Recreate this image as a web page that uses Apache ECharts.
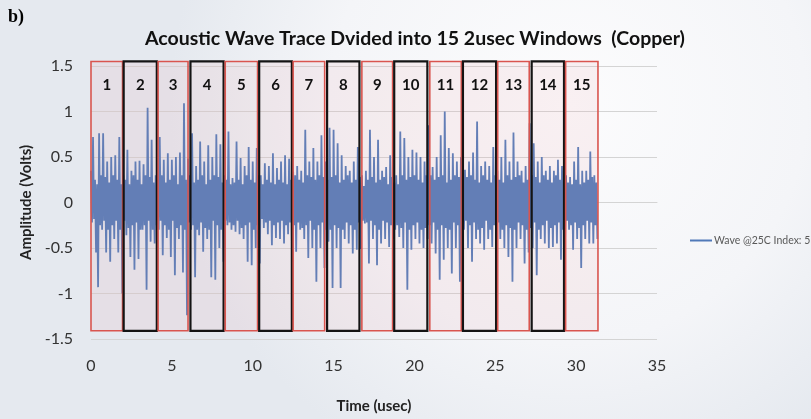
<!DOCTYPE html>
<html>
<head>
<meta charset="utf-8">
<script src="https://cdn.jsdelivr.net/npm/echarts@6/dist/echarts.min.js"></script>
<style>
  html, body { margin: 0; padding: 0; }
  #chart { width: 811px; height: 419px; }
</style>
</head>
<body>
<div id="chart"></div>
<script>
// Sample spacing of the recorded trace (usec)
const timeStep = 0.0625;

// Acoustic wave amplitude (Volts), one row per 2 usec window
const amplitude = [
  0.35,-0.22, 0.72,-0.18, 0.25,-0.55, 0.20,-0.93, 0.76,-0.25, 0.30,-0.30, 0.76,-0.20, 0.28,-0.55, 0.45,-0.30, 0.22,-0.65, 0.50,-0.25, 0.30,-0.40, 0.52,-0.20, 0.25,-0.55, 0.72,-0.30, 0.20,-1.00,
  0.30,-0.20, 0.25,-0.36, 0.58,-0.28, 0.20,-0.60, 0.35,-0.25, 0.30,-0.74, 0.45,-0.22, 0.25,-0.62, 0.46,-0.30, 0.20,-0.30, 0.42,-0.25, 0.30,-0.96, 1.04,-0.20, 0.28,-0.43, 0.69,-0.30, 0.22,-0.45, 0.30,-0.25,
  0.25,-0.30, 0.72,-0.20, 0.30,-0.58, 0.47,-0.25, 0.22,-0.39, 0.54,-0.30, 0.25,-0.60, 0.47,-0.20, 0.30,-0.80, 0.50,-0.28, 0.20,-0.40, 0.55,-0.25, 0.30,-0.77, 1.09,-0.30, 0.25,-1.24, 0.48,-0.22,
  0.30,-0.30, 0.76,-0.25, 0.22,-0.82, 0.40,-0.30, 0.25,-0.36, 0.67,-0.22, 0.30,-0.54, 0.45,-0.28, 0.20,-0.40, 0.63,-0.30, 0.25,-0.82, 0.50,-0.20, 0.30,-0.85, 0.75,-0.25, 0.28,-0.50, 0.64,-0.30, 0.22,-0.65,
  0.30,-0.20, 0.25,-0.25, 0.78,-0.22, 0.20,-0.30, 0.27,-0.25, 0.22,-0.32, 0.67,-0.20, 0.25,-0.35, 0.49,-0.28, 0.20,-0.40, 0.40,-0.25, 0.30,-0.65, 0.61,-0.22, 0.25,-0.69, 0.45,-0.30, 0.22,-0.50, 0.60,-0.25, 0.30,-0.67,
  0.30,-0.18, 0.20,-0.28, 0.43,-0.22, 0.25,-0.35, 0.40,-0.20, 0.22,-0.47, 0.54,-0.25, 0.20,-0.39, 0.38,-0.22, 0.25,-0.40, 0.45,-0.20, 0.22,-0.45, 0.52,-0.25, 0.20,-0.35, 0.48,-0.22, 0.25,-0.65,
  0.34,-0.25, 0.30,-0.54, 0.40,-0.22, 0.25,-0.30, 0.35,-0.28, 0.22,-0.40, 0.80,-0.25, 0.30,-0.61, 0.45,-0.20, 0.28,-0.50, 0.60,-0.30, 0.25,-0.87, 0.45,-0.25, 0.30,-0.50, 0.74,-0.22, 0.28,-0.72, 0.45,-0.30,
  0.25,-0.43, 0.82,-0.30, 0.28,-0.94, 0.80,-0.25, 0.30,-0.50, 0.65,-0.28, 0.22,-0.94, 0.52,-0.30, 0.25,-0.40, 0.40,-0.22, 0.30,-0.45, 0.35,-0.25, 0.22,-0.56, 0.45,-0.30, 0.25,-0.52, 0.61,-0.22, 0.28,-0.51,
  0.30,-0.20, 0.18,-0.23, 0.35,-0.22, 0.25,-0.67, 0.80,-0.20, 0.28,-0.40, 0.50,-0.25, 0.22,-0.69, 0.69,-0.30, 0.25,-0.45, 0.35,-0.20, 0.28,-0.40, 0.39,-0.22, 0.20,-0.49, 0.52,-0.25, 0.28,-0.40,
  0.22,-0.30, 0.30,-0.25, 0.20,-0.38, 0.78,-0.28, 0.30,-0.50, 0.71,-0.22, 0.25,-0.96, 0.50,-0.30, 0.28,-0.52, 0.58,-0.25, 0.30,-0.40, 0.55,-0.22, 0.25,-0.45, 0.50,-0.30, 0.22,-0.50, 0.45,-0.28, 0.30,-0.40, 0.85,-0.25,
  0.30,-0.45, 0.39,-0.22, 0.25,-0.56, 0.50,-0.30, 0.28,-0.85, 0.74,-0.25, 0.30,-0.63, 1.00,-0.28, 0.22,-0.50, 0.60,-0.30, 0.25,-0.78, 0.54,-0.22, 0.30,-0.50, 0.45,-0.25, 0.28,-0.87, 0.50,-0.30,
  0.25,-0.30, 0.36,-0.20, 0.28,-0.50, 0.45,-0.25, 0.30,-0.65, 0.55,-0.22, 0.25,-0.40, 0.89,-0.30, 0.22,-0.45, 0.40,-0.28, 0.30,-0.52, 0.45,-0.20, 0.25,-0.40, 0.40,-0.30, 0.22,-0.49, 0.61,-0.25, 0.30,-0.55,
  0.35,-0.22, 0.25,-0.40, 0.50,-0.30, 0.22,-0.50, 0.69,-0.25, 0.30,-0.60, 0.45,-0.28, 0.25,-0.87, 0.77,-0.30, 0.28,-0.50, 0.45,-0.22, 0.30,-0.40, 0.35,-0.25, 0.22,-0.67, 0.40,-0.30, 0.25,-0.55, 0.87,-0.28,
  0.30,-0.50, 0.65,-0.22, 0.28,-0.80, 0.45,-0.30, 0.22,-0.40, 0.50,-0.25, 0.30,-0.45, 0.35,-0.20, 0.25,-0.50, 0.40,-0.28, 0.22,-0.49, 0.35,-0.25, 0.30,-0.45, 0.47,-0.22, 0.25,-0.63, 0.40,-0.30, 0.28,-0.45,
  0.30,-0.20, 0.22,-0.30, 0.28,-0.25, 0.20,-0.52, 0.45,-0.22, 0.25,-0.40, 0.61,-0.28, 0.20,-0.72, 0.35,-0.25, 0.22,-0.40, 0.35,-0.20, 0.25,-0.45, 0.56,-0.22, 0.28,-0.45, 0.30,-0.25, 0.22,-0.40
];

// The 15 analysis windows (usec)
const windowStart = [0.00, 2.02, 4.15, 6.15, 8.30, 10.40, 12.50, 14.60, 16.75, 18.75, 20.95, 23.00, 25.15, 27.25, 29.35];
const windowEnd   = [1.95, 4.07, 6.00, 8.20, 10.30, 12.42, 14.45, 16.60, 18.65, 20.80, 22.90, 25.05, 27.10, 29.25, 31.35];
const windowLabels = ['1','2','3','4','5','6','7','8','9','10','11','12','13','14','15'];

const seriesName = 'Wave @25C Index: 5';

// Vertical extent of the window frames and their number labels (Volts)
const frameTop = 1.55;
const frameBottom = -1.41;
const labelLevel = 1.29;

const waveData = amplitude.map((v, i) => [i * timeStep, v]);
const windowData = windowStart.map((s, i) => [s, windowEnd[i], i]);

function renderWindow(params, api) {
  const x0 = api.value(0);
  const x1 = api.value(1);
  const idx = api.value(2);
  const tl = api.coord([x0, frameTop]);
  const br = api.coord([x1, frameBottom]);
  const odd = idx % 2 === 0; // windows 1, 3, 5 ... use red frames
  return {
    type: 'group',
    children: [
      {
        type: 'rect',
        shape: { x: tl[0], y: tl[1], width: br[0] - tl[0], height: br[1] - tl[1] },
        style: {
          fill: 'rgba(232,165,170,0.13)',
          stroke: odd ? '#d9554f' : '#141414',
          lineWidth: odd ? 1.6 : 2.2
        }
      },
      {
        type: 'text',
        x: (tl[0] + br[0]) / 2,
        y: api.coord([x0, labelLevel])[1],
        style: {
          text: windowLabels[idx],
          fill: '#111',
          font: 'bold 15px Lato',
          align: 'center',
          verticalAlign: 'middle'
        }
      }
    ]
  };
}

const chart = echarts.init(document.getElementById('chart'), null, { renderer: 'canvas' });

chart.setOption({
  animation: false,
  backgroundColor: {
    type: 'radial', x: 0.7, y: 0.25, r: 0.95,
    colorStops: [
      { offset: 0, color: '#fcfcfd' },
      { offset: 0.6, color: '#f4f5f8' },
      { offset: 1, color: '#e5e9ef' }
    ]
  },
  title: {
    text: 'Acoustic Wave Trace Dvided into 15 2usec Windows  (Copper)',
    left: 410,
    textAlign: 'center',
    top: 24,
    textStyle: { fontFamily: 'Lato', fontWeight: 'bold', fontSize: 19.5, color: '#111' }
  },
  graphic: [
    {
      type: 'text', left: 8, top: 8,
      style: { text: 'b)', font: 'bold 18px "Liberation Serif"', fill: '#000' }
    }
  ],
  legend: {
    data: [seriesName],
    left: 685,
    top: 230,
    icon: 'rect',
    itemWidth: 22,
    itemHeight: 2,
    itemGap: 4,
    textStyle: { fontFamily: 'Lato', fontSize: 10.5, color: '#595959', padding: [0, 0, 0, -3] }
  },
  grid: { left: 91, right: 154, top: 66, bottom: 80 },
  xAxis: {
    type: 'value',
    min: 0, max: 35, interval: 5,
    name: 'Time (usec)',
    nameLocation: 'middle',
    nameGap: 60,
    nameTextStyle: { fontFamily: 'Lato', fontWeight: 'bold', fontSize: 15, color: '#222' },
    axisLine: { show: true, lineStyle: { color: '#d4d4d4', width: 1 } },
    axisTick: { show: false },
    splitLine: { show: false },
    axisLabel: { fontFamily: 'Lato', fontSize: 16, color: '#333', margin: 19 }
  },
  yAxis: {
    type: 'value',
    min: -1.5, max: 1.5, interval: 0.5,
    name: 'Amplitude (Volts)',
    nameLocation: 'middle',
    nameGap: 22,
    nameRotate: 90,
    nameTextStyle: { fontFamily: 'Lato', fontWeight: 'bold', fontSize: 15, color: '#222' },
    axisLine: { show: false },
    axisTick: { show: false },
    splitLine: { lineStyle: { color: '#d4d4d4', width: 1 } },
    axisLabel: { fontFamily: 'Lato', fontSize: 16, color: '#333', margin: 18 }
  },
  series: [
    {
      name: seriesName,
      type: 'line',
      data: waveData,
      showSymbol: false,
      symbol: 'none',
      lineStyle: { color: '#5079b8', width: 1.8 },
      itemStyle: { color: '#5079b8' },
      z: 2
    },
    {
      type: 'custom',
      data: windowData,
      renderItem: renderWindow,
      encode: { x: [0, 1] },
      silent: true,
      clip: false,
      z: 5
    }
  ]
});
</script>
</body>
</html>
